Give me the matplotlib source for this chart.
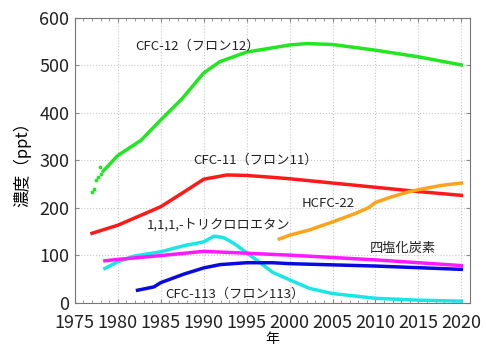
import numpy as np
import matplotlib.pyplot as plt
from matplotlib.ticker import MultipleLocator

plt.rcParams['font.family'] = ['Noto Sans CJK JP', 'DejaVu Sans']

# CFC-12 (early scattered flask samples + continuous record)
cfc12_early_years = [1977.0, 1977.2, 1977.5, 1977.7, 1977.9, 1978.1]
cfc12_early = [233, 240, 258, 265, 285, 272]
cfc12_years = [1978.3, 1980, 1982.7, 1985, 1987.5, 1990, 1991.9, 1995, 1998, 2000, 2002, 2005, 2010, 2015, 2020]
cfc12 = [277, 310, 342, 385, 430, 484, 508, 528, 537, 543, 546, 544, 532, 518, 501]

cfc11_years = [1977.0, 1980, 1985, 1987.7, 1990, 1992.7, 1995, 1998, 2000, 2005, 2010, 2015, 2020]
cfc11 = [146, 163, 202, 233, 260, 269, 268, 264, 261, 252, 243, 234, 226]

hcfc22_years = [1998.8, 2000, 2002.3, 2005, 2007.7, 2009.2, 2010, 2011.9, 2013.8, 2015, 2017.7, 2020]
hcfc22 = [134, 142, 153, 170, 188, 200, 211, 223, 233, 238, 247, 252]

tce_years = [1978.5, 1980, 1981.9, 1985, 1987.7, 1990, 1991.2, 1992.3, 1993.5, 1995, 1996.5, 1998, 2000, 2002.3, 2005, 2010, 2015, 2020]
tce = [72, 86, 98, 107, 120, 128, 140, 137, 125, 105, 85, 64, 48, 30, 19, 9, 5, 3]

ccl4_years = [1978.5, 1980, 1985, 1990, 1995, 2000, 2010, 2020]
ccl4 = [88, 91, 99, 108, 104, 100, 90, 78]

cfc113_years = [1982.3, 1984.2, 1985, 1987.7, 1990, 1991.9, 1995, 1998, 2000, 2010, 2020]
cfc113 = [26, 33, 42, 60, 73, 80, 84, 84, 82, 77, 70]

labels = ["CFC-12（フロン12）", "CFC-11（フロン11）", "1,1,1,-トリクロロエタン",
          "HCFC-22", "四塩化炭素", "CFC-113（フロン113）"]
label_x = [1982.0, 1988.8, 1983.4, 2001.4, 2009.3, 1985.5]
label_y = [540, 300, 163, 209, 115, 18]

fig = plt.figure(figsize=(4.86, 3.45), dpi=100)
ax = fig.add_axes([0.154, 0.123, 0.813, 0.825])

lw = 2.5
ax.scatter(cfc12_early_years, cfc12_early, s=3, color='#22e622', zorder=3)
ax.plot(cfc12_years, cfc12, color='#22e622', lw=lw)
ax.plot(cfc11_years, cfc11, color='#ff1a1a', lw=lw)
ax.plot(hcfc22_years, hcfc22, color='#ffa31a', lw=lw)
ax.plot(tce_years, tce, color='#1ae6e6', lw=lw)
ax.plot(ccl4_years, ccl4, color='#ff1aff', lw=lw)
ax.plot(cfc113_years, cfc113, color='#0a0ae0', lw=lw)

for t, x, y in zip(labels, label_x, label_y):
    ax.text(x, y, t, fontsize=9.5, va='center', ha='left', color='#222222')

ax.set_xlim(1975, 2021)
ax.set_ylim(0, 600)
ax.xaxis.set_major_locator(MultipleLocator(5))
ax.xaxis.set_minor_locator(MultipleLocator(1))
ax.yaxis.set_major_locator(MultipleLocator(100))
ax.tick_params(which='both', direction='in', top=True, right=True, color='#888888')
ax.tick_params(which='major', length=3, labelsize=13, labelcolor='#222222')
ax.tick_params(axis='x', which='major', pad=8)
ax.tick_params(axis='y', which='major', pad=4)
ax.tick_params(which='minor', length=2)
ax.grid(True, which='major', color='#c8c8c8', linestyle=':', lw=0.8)
for s in ax.spines.values():
    s.set_color('#777777')

ax.set_xlabel("年", fontsize=10, labelpad=0)
ax.set_ylabel("濃度（ppt）", fontsize=12, labelpad=6)

fig.savefig("out.png", dpi=100)
